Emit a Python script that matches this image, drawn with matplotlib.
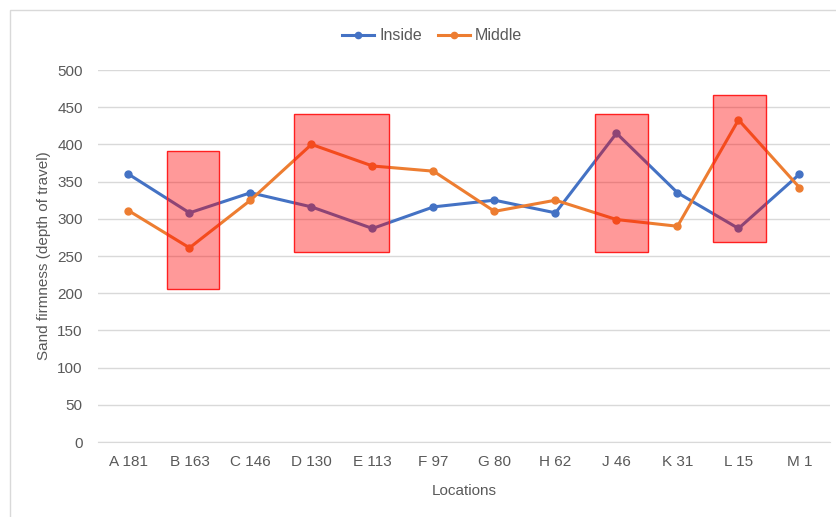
import numpy as np
import matplotlib.pyplot as plt
from matplotlib.patches import Rectangle

# Data
locations = ["A 181", "B 163", "C 146", "D 130", "E 113", "F 97",
             "G 80", "H 62", "J 46", "K 31", "L 15", "M 1"]
inside = [360, 308, 335, 316, 287, 316, 325, 308, 415, 335, 287, 360]
middle = [311, 261, 325, 400, 371, 364, 310, 325, 299, 290, 433, 342]

# Highlighted regions: (x start, x end, y bottom, y top) in axis units
highlights = [
    (0.63, 1.48, 206, 391),
    (2.71, 4.27, 255, 441),
    (7.65, 8.52, 255, 441),
    (9.58, 10.45, 269, 466),
]

blue = "#4472C4"
orange = "#ED7D31"
grey_text = "#595959"
grid_col = "#D9D9D9"

plt.rcParams["font.family"] = ["Liberation Sans", "DejaVu Sans"]

fig = plt.figure(figsize=(8.37, 5.17), dpi=100)
ax = fig.add_axes([98 / 837, 1 - 442 / 517, (830 - 98) / 837, (442 - 70) / 517])

# chart area border (cropped on right and bottom in the reference)
fig.patches.append(Rectangle((10 / 837, -0.1), 1.1, 1 - 10 / 517 + 0.1,
                             transform=fig.transFigure, fill=False,
                             edgecolor=grid_col, linewidth=1.0))

x = np.arange(len(locations))
ax.plot(x, inside, color=blue, linewidth=2.2, marker="o", markersize=5, label="Inside", zorder=3)
ax.plot(x, middle, color=orange, linewidth=2.2, marker="o", markersize=5, label="Middle", zorder=3)

for x0, x1, y0, y1 in highlights:
    ax.add_patch(Rectangle((x0, y0), x1 - x0, y1 - y0, facecolor="#FF0000", alpha=0.4,
                           edgecolor="none", zorder=4))
    ax.add_patch(Rectangle((x0, y0), x1 - x0, y1 - y0, fill=False,
                           edgecolor="#FF2020", linewidth=1.0, zorder=5))

ax.set_xlim(-0.5, len(locations) - 0.5)
ax.set_ylim(0, 500)
ax.set_yticks(np.arange(0, 501, 50))
ax.set_xticks(x)
ax.set_xticklabels(locations)
ax.yaxis.grid(True, color=grid_col, linewidth=1.0)
ax.set_axisbelow(True)
for s in ["top", "right", "left"]:
    ax.spines[s].set_visible(False)
ax.spines["bottom"].set_color(grid_col)
ax.tick_params(axis="both", length=0, colors=grey_text, labelsize=11)
ax.tick_params(axis="y", pad=11)
ax.tick_params(axis="x", pad=9)

ax.set_xlabel("Locations", fontsize=11, color=grey_text)
ax.set_ylabel("Sand firmness (depth of travel)", fontsize=11, color=grey_text)
ax.xaxis.set_label_coords(0.5, -0.114)
ax.yaxis.set_label_coords(-0.064, 0.5)

ax.legend(loc="center", bbox_to_anchor=(432 / 837, 1 - 36 / 517), bbox_transform=fig.transFigure,
          ncol=2, frameon=False, fontsize=11.5, labelcolor=grey_text, handlelength=2.0,
          handletextpad=0.3, columnspacing=1.0, markerscale=0.9)

fig.savefig("out.png", dpi=100)
